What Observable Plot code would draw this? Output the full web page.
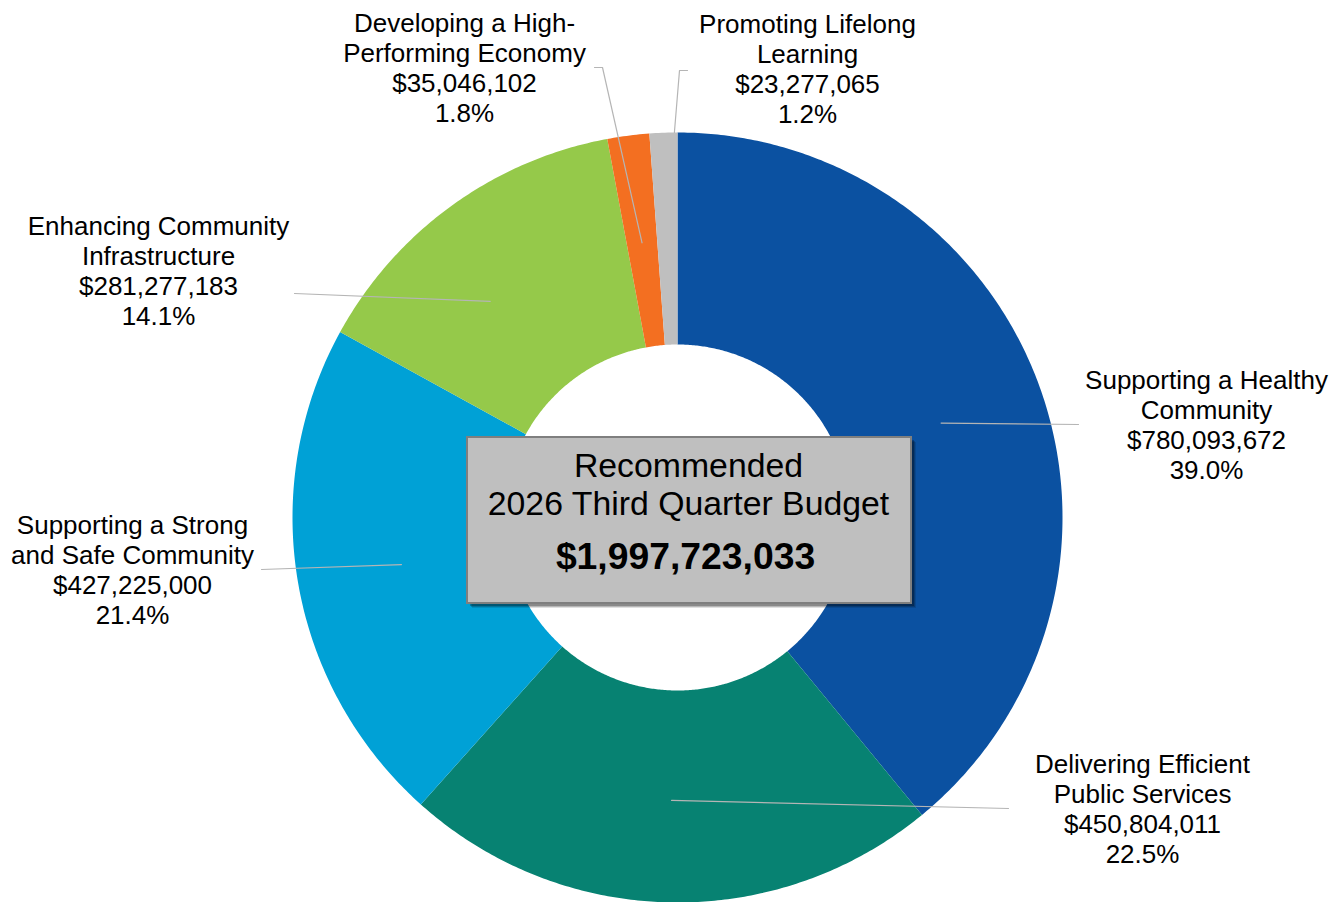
<!DOCTYPE html>
<html>
<head>
<meta charset="utf-8">
<script src="https://cdn.jsdelivr.net/npm/d3@7"></script>
<script src="https://cdn.jsdelivr.net/npm/@observablehq/plot@0.6"></script>
<style>
  html, body { margin: 0; padding: 0; background: #fff; }
  #chart svg { display: block; }
</style>
</head>
<body>
<div id="chart"></div>
<script>
// ---- data ----
const categories = [
  "Supporting a Healthy Community",
  "Delivering Efficient Public Services",
  "Supporting a Strong and Safe Community",
  "Enhancing Community Infrastructure",
  "Developing a High-Performing Economy",
  "Promoting Lifelong Learning"
];
const labelLines = [
  ["Supporting a Healthy", "Community"],
  ["Delivering Efficient", "Public Services"],
  ["Supporting a Strong", "and Safe Community"],
  ["Enhancing Community", "Infrastructure"],
  ["Developing a High-", "Performing Economy"],
  ["Promoting Lifelong", "Learning"]
];
const values = [780093672, 450804011, 427225000, 281277183, 35046102, 23277065];
const percentLabels = ["39.0%", "22.5%", "21.4%", "14.1%", "1.8%", "1.2%"];
const colors = ["#0b51a1", "#078272", "#00a1d6", "#95c94a", "#f36f21", "#bfbfbf"];
const centerTitle = ["Recommended", "2026 Third Quarter Budget"];

// ---- layout ----
const W = 1344, H = 902;
const cx = 677, cy = 517, rOuter = 385, rInner = 173;
const labelX = [1206, 1142, 132, 158, 464, 807];
const labelY = [424, 808, 569, 270, 67, 68];
const leaderR = [280, 283, 280, 286, 277, 385];
const leaderFrac = [0.5, 0.5, 0.5, 0.4, 0.5, 0.89];
const leaderEndX = [1078, 1008, 261, 294, 602, 679];
const leaderEndY = [424, 808, 569, 293, 67, 70];
const leaderTickX = [null, null, null, null, 594, 687];
const box = {x1: cx - 210, x2: cx + 234, y1: cy - 80, y2: cy + 86};

const total = d3.sum(values);
const fmt = d3.format("$,");

const arcs = d3.pie().sort(null).value(d => d)(values);

// slice polygons
const polys = [];
arcs.forEach((a, i) => {
  const span = a.endAngle - a.startAngle;
  const n = Math.max(2, Math.ceil(span / (Math.PI / 360)));
  for (let k = 0; k <= n; k++) {
    const t = a.startAngle + span * k / n;
    polys.push({name: categories[i], x: cx + rOuter * Math.sin(t), y: cy - rOuter * Math.cos(t)});
  }
  for (let k = n; k >= 0; k--) {
    const t = a.startAngle + span * k / n;
    polys.push({name: categories[i], x: cx + rInner * Math.sin(t), y: cy - rInner * Math.cos(t)});
  }
});

// leader lines
const leaders = [];
arcs.forEach((a, i) => {
  const m = a.startAngle + (a.endAngle - a.startAngle) * leaderFrac[i];
  leaders.push({id: i, x: cx + leaderR[i] * Math.sin(m), y: cy - leaderR[i] * Math.cos(m)});
  leaders.push({id: i, x: leaderEndX[i], y: leaderEndY[i]});
  if (leaderTickX[i] != null) leaders.push({id: i, x: leaderTickX[i], y: leaderEndY[i]});
});

const labels = categories.map((c, i) => ({
  text: [...labelLines[i], fmt(values[i]), percentLabels[i]].join("\n"),
  x: labelX[i], y: labelY[i]
}));

const shadows = [
  {dx: 5, dy: 5, o: 0.12},
  {dx: 4, dy: 4, o: 0.18},
  {dx: 3, dy: 3, o: 0.25}
];

const font = "Liberation Sans, Arial, Helvetica, sans-serif";

const chart = Plot.plot({
  width: W,
  height: H,
  margin: 0,
  style: {fontFamily: font, background: "#fff"},
  x: {type: "identity", axis: null},
  y: {type: "identity", axis: null},
  color: {type: "ordinal", domain: categories, range: colors},
  marks: [
    Plot.line(polys, {x: "x", y: "y", z: "name", fill: "name", stroke: "none", curve: "linear-closed"}),
    Plot.line(leaders, {x: "x", y: "y", z: "id", stroke: "#b5b5b5", strokeWidth: 1.2}),
    Plot.rect(shadows, {x1: d => box.x1 + d.dx, x2: d => box.x2 + d.dx, y1: d => box.y1 + d.dy, y2: d => box.y2 + d.dy, fill: "#000", fillOpacity: d => d.o}),
    Plot.rect([box], {x1: "x1", x2: "x2", y1: "y1", y2: "y2", fill: "#bfbfbf", stroke: "#7f7f7f", strokeWidth: 2}),
    Plot.text(labels, {x: "x", y: "y", text: "text", fontSize: 26, lineHeight: 1.15, fill: "#000", textAnchor: "middle"}),
    Plot.text([centerTitle.join("\n")], {x: (box.x1 + box.x2) / 2 - 1, y: cy - 34, text: d => d, fontSize: 33.8, lineHeight: 1.13, fill: "#000"}),
    Plot.text([fmt(total)], {x: (box.x1 + box.x2) / 2 - 4, y: cy + 40, text: d => d, fontSize: 37.3, fontWeight: "bold", fill: "#000"})
  ]
});
document.getElementById("chart").appendChild(chart);
</script>
</body>
</html>
